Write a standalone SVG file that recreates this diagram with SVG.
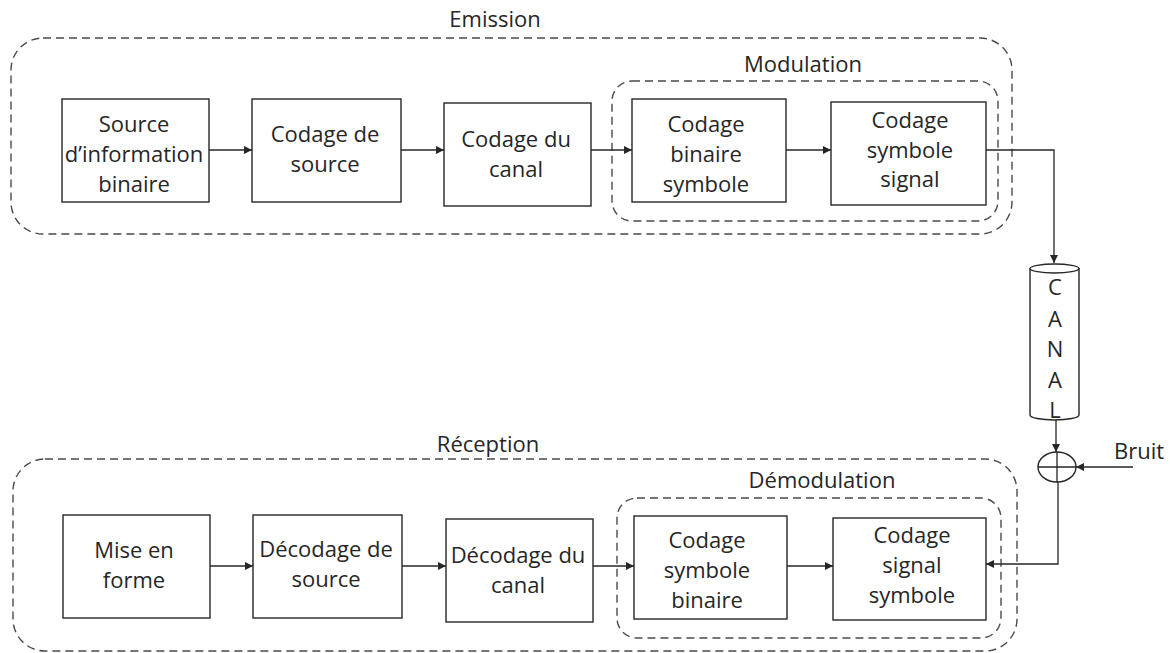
<svg xmlns="http://www.w3.org/2000/svg" width="1172" height="653" viewBox="0 0 1172 653">
<style>
.bg{fill:#fff}
.box{fill:#fff;stroke:#262626;stroke-width:1.4}
.grp{fill:none;stroke:#4a4a4a;stroke-width:1.4;stroke-dasharray:8 5}
.t{font-family:"Open Sans","Liberation Sans",sans-serif;font-size:22px;fill:#262626;text-anchor:middle}
.c{fill:none;stroke:#262626;stroke-width:1.3}
</style>
<defs>
<marker id="ah" viewBox="0 0 10 10" refX="10" refY="5" markerWidth="9" markerHeight="8" orient="auto" markerUnits="userSpaceOnUse"><path d="M0,0 L10,5 L0,10 z" fill="#262626"/></marker>
</defs>
<rect class="bg" x="0" y="0" width="1172" height="653"/>

<g id="emission">
<rect class="grp" x="11" y="38" width="1001" height="196" rx="32" ry="32"/>
<text class="t" x="495" y="27">Emission</text>
</g>
<g id="modulation">
<rect class="grp" x="612" y="81" width="386" height="140" rx="20" ry="20"/>
<text class="t" x="803" y="72">Modulation</text>
</g>
<g id="reception">
<rect class="grp" x="13" y="459" width="1004" height="192" rx="32" ry="32"/>
<text class="t" x="488" y="452">Réception</text>
</g>
<g id="demodulation">
<rect class="grp" x="617" y="498" width="384" height="140" rx="20" ry="20"/>
<text class="t" x="822" y="488">Démodulation</text>
</g>

<g id="source-info">
<rect class="box" x="62" y="99" width="147" height="103"/>
<text class="t" x="134" y="132">Source</text>
<text class="t" x="134" y="162">d’information</text>
<text class="t" x="134" y="192">binaire</text>
</g>
<g id="codage-source">
<rect class="box" x="252" y="99" width="149" height="103"/>
<text class="t" x="325" y="142">Codage de</text>
<text class="t" x="325" y="172">source</text>
</g>
<g id="codage-canal">
<rect class="box" x="444" y="103" width="147" height="103"/>
<text class="t" x="516" y="147">Codage du</text>
<text class="t" x="516" y="177">canal</text>
</g>
<g id="codage-binaire-symbole">
<rect class="box" x="632" y="99" width="154" height="103"/>
<text class="t" x="706" y="132">Codage</text>
<text class="t" x="706" y="162">binaire</text>
<text class="t" x="706" y="192">symbole</text>
</g>
<g id="codage-symbole-signal">
<rect class="box" x="831" y="102" width="155" height="103"/>
<text class="t" x="910" y="128">Codage</text>
<text class="t" x="910" y="158">symbole</text>
<text class="t" x="910" y="187">signal</text>
</g>

<g id="canal">
<path class="box" d="M1030,268 V415 A24.5,5 0 0 0 1079,415 V268"/>
<ellipse class="box" cx="1054.5" cy="268.5" rx="24.5" ry="4.5"/>
<text class="t" x="1055" y="295">C</text>
<text class="t" x="1055" y="327">A</text>
<text class="t" x="1055" y="357">N</text>
<text class="t" x="1055" y="388">A</text>
<text class="t" x="1055" y="418">L</text>
</g>
<g id="sommateur">
<ellipse class="box" cx="1057" cy="467" rx="19" ry="15"/>
<path class="c" d="M1038,467 H1076 M1057,452 V482"/>
</g>
<g id="bruit">
<text class="t" x="1139" y="459">Bruit</text>
</g>

<g id="mise-en-forme">
<rect class="box" x="63" y="515" width="147" height="103"/>
<text class="t" x="134" y="558">Mise en</text>
<text class="t" x="134" y="588">forme</text>
</g>
<g id="decodage-source">
<rect class="box" x="253" y="515" width="149" height="103"/>
<text class="t" x="326" y="557">Décodage de</text>
<text class="t" x="326" y="587">source</text>
</g>
<g id="decodage-canal">
<rect class="box" x="446" y="519" width="147" height="103"/>
<text class="t" x="518" y="563">Décodage du</text>
<text class="t" x="518" y="593">canal</text>
</g>
<g id="codage-symbole-binaire">
<rect class="box" x="634" y="516" width="153" height="103"/>
<text class="t" x="707" y="548">Codage</text>
<text class="t" x="707" y="578">symbole</text>
<text class="t" x="707" y="608">binaire</text>
</g>
<g id="codage-signal-symbole">
<rect class="box" x="833" y="518" width="153" height="102"/>
<text class="t" x="912" y="543">Codage</text>
<text class="t" x="912" y="573">signal</text>
<text class="t" x="912" y="603">symbole</text>
</g>

<g id="connectors" class="c">
<path d="M209,150 H252" marker-end="url(#ah)"/>
<path d="M401,150 H444" marker-end="url(#ah)"/>
<path d="M591,150 H632" marker-end="url(#ah)"/>
<path d="M786,150 H831" marker-end="url(#ah)"/>
<path d="M986,150 H1054 V263" marker-end="url(#ah)"/>
<path d="M1056,420 V452" marker-end="url(#ah)"/>
<path d="M1133,467 H1076" marker-end="url(#ah)"/>
<path d="M1058,482 V564 H986" marker-end="url(#ah)"/>
<path d="M210,566 H253" marker-end="url(#ah)"/>
<path d="M402,566 H446" marker-end="url(#ah)"/>
<path d="M593,566 H634" marker-end="url(#ah)"/>
<path d="M787,566 H833" marker-end="url(#ah)"/>
</g>
</svg>
